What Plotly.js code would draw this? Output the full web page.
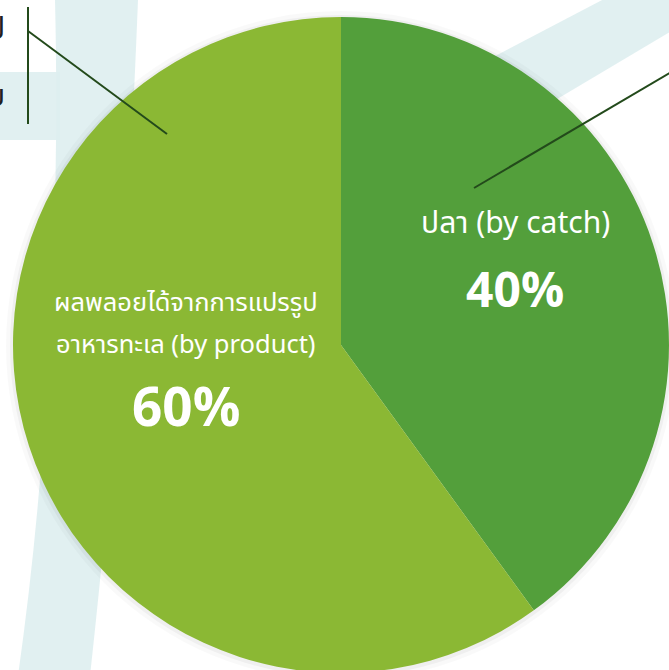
<!DOCTYPE html>
<html>
<head>
<meta charset="utf-8">
<script src="https://cdn.plot.ly/plotly-3.0.1.min.js"></script>
<style>
html,body{margin:0;padding:0;overflow:hidden;background:#fff;}
#chart{width:669px;height:676px;}
</style>
</head>
<body>
<div id="chart"></div>
<script>
// ---- data ----
var categories = ["ปลา (by catch)", "ผลพลอยได้จากการแปรรูป\nอาหารทะเล (by product)"];
var values = [40, 60];
var colors = ["#539f3b", "#8bb834"];

// ---- geometry helpers (pixel -> paper) ----
var L = 13, T = 17, W = 656, H = 656;
function X(px){ return (px - L) / W; }
function Y(py){ return 1 - (py - T) / H; }
function P(px, py){ return X(px).toFixed(5) + "," + Y(py).toFixed(5); }

var total = values.reduce(function(a,b){return a+b;}, 0);
var pctText = values.map(function(v){ return Math.round(v / total * 100) + "%"; });

var FONT = "'Noto Sans Thai', 'Noto Sans', 'Open Sans', sans-serif";

// label placement (layout only)
var labelPos = [
  {x: 515, ys: [224], lsize: 30, py: 292, psize: 48},
  {x: 186, ys: [303, 345], lsize: 25.5, py: 410, psize: 53}
];

var annotations = [];
categories.forEach(function(cat, i){
  var lines = cat.split("\n");
  lines.forEach(function(line, j){
    annotations.push({
      xref: "paper", yref: "paper", x: X(labelPos[i].x), y: Y(labelPos[i].ys[j]),
      xanchor: "center", yanchor: "middle", showarrow: false,
      text: line, font: {family: FONT, size: labelPos[i].lsize, color: "#ffffff"}
    });
  });
  annotations.push({
    xref: "paper", yref: "paper", x: X(labelPos[i].x), y: Y(labelPos[i].py),
    xanchor: "center", yanchor: "middle", showarrow: false,
    text: "<b>" + pctText[i] + "</b>", font: {family: FONT, size: labelPos[i].psize, color: "#ffffff"}
  });
});
// cut-off text at top-left (as in the reference)
annotations.push({xref:"paper", yref:"paper", x: X(7), y: Y(30), xanchor:"right", yanchor:"middle",
  showarrow:false, text:"ป", font:{family:FONT, size:30, color:"#231f20"}});
annotations.push({xref:"paper", yref:"paper", x: X(7), y: Y(97), xanchor:"right", yanchor:"middle",
  showarrow:false, text:"บ", font:{family:FONT, size:30, color:"#231f20"}});

var teal = "rgba(222,238,239,0.9)";
var shapes = [
  // background swooshes
  {type:"path", xref:"paper", yref:"paper", layer:"below", line:{width:0}, fillcolor:teal,
   path:"M" + P(55,0) + " L" + P(138,0) + " C" + P(128,250) + " " + P(115,450) + " " + P(90,676) +
        " L" + P(18,676) + " C" + P(50,450) + " " + P(60,200) + " " + P(55,0) + " Z"},
  {type:"rect", xref:"paper", yref:"paper", layer:"below", line:{width:0}, fillcolor:teal,
   x0: X(0), x1: X(60), y0: Y(72), y1: Y(140)},
  {type:"path", xref:"paper", yref:"paper", layer:"below", line:{width:0}, fillcolor:teal,
   path:"M" + P(440,85) + " L" + P(625,-12) + " L" + P(700,-12) + " L" + P(700,14) + " L" + P(480,145) + " Z"},
  // soft shadow around the pie
  {type:"circle", xref:"paper", yref:"paper", layer:"below", line:{width:0}, fillcolor:"rgba(0,0,0,0.025)",
   x0: X(341-335), x1: X(341+335), y0: Y(346+335), y1: Y(346-335)},
  {type:"circle", xref:"paper", yref:"paper", layer:"below", line:{width:0}, fillcolor:"rgba(0,0,0,0.04)",
   x0: X(341-331), x1: X(341+331), y0: Y(346+331), y1: Y(346-331)},
  // leader lines
  {type:"line", xref:"paper", yref:"paper", layer:"above", line:{color:"#234a1b", width:2},
   x0: X(474), y0: Y(188), x1: X(685), y1: Y(64)},
  {type:"line", xref:"paper", yref:"paper", layer:"above", line:{color:"#234a1b", width:2},
   x0: X(167), y0: Y(134), x1: X(28), y1: Y(31)},
  {type:"line", xref:"paper", yref:"paper", layer:"above", line:{color:"#234a1b", width:2},
   x0: X(28), y0: Y(7), x1: X(28), y1: Y(124)}
];

var trace = {
  type: "pie",
  labels: categories.map(function(c){ return c.replace("\n", " "); }),
  values: values,
  sort: false,
  direction: "clockwise",
  rotation: 0,
  textinfo: "none",
  hoverinfo: "label+percent",
  marker: {colors: colors, line: {width: 0}},
  showlegend: false
};

var layout = {
  width: 669, height: 676,
  margin: {l: L, r: 0, t: T, b: 3, pad: 0},
  paper_bgcolor: "#ffffff",
  plot_bgcolor: "#ffffff",
  showlegend: false,
  shapes: shapes,
  annotations: annotations
};

Plotly.newPlot("chart", [trace], layout, {displayModeBar: false, staticPlot: true});
</script>
</body>
</html>
